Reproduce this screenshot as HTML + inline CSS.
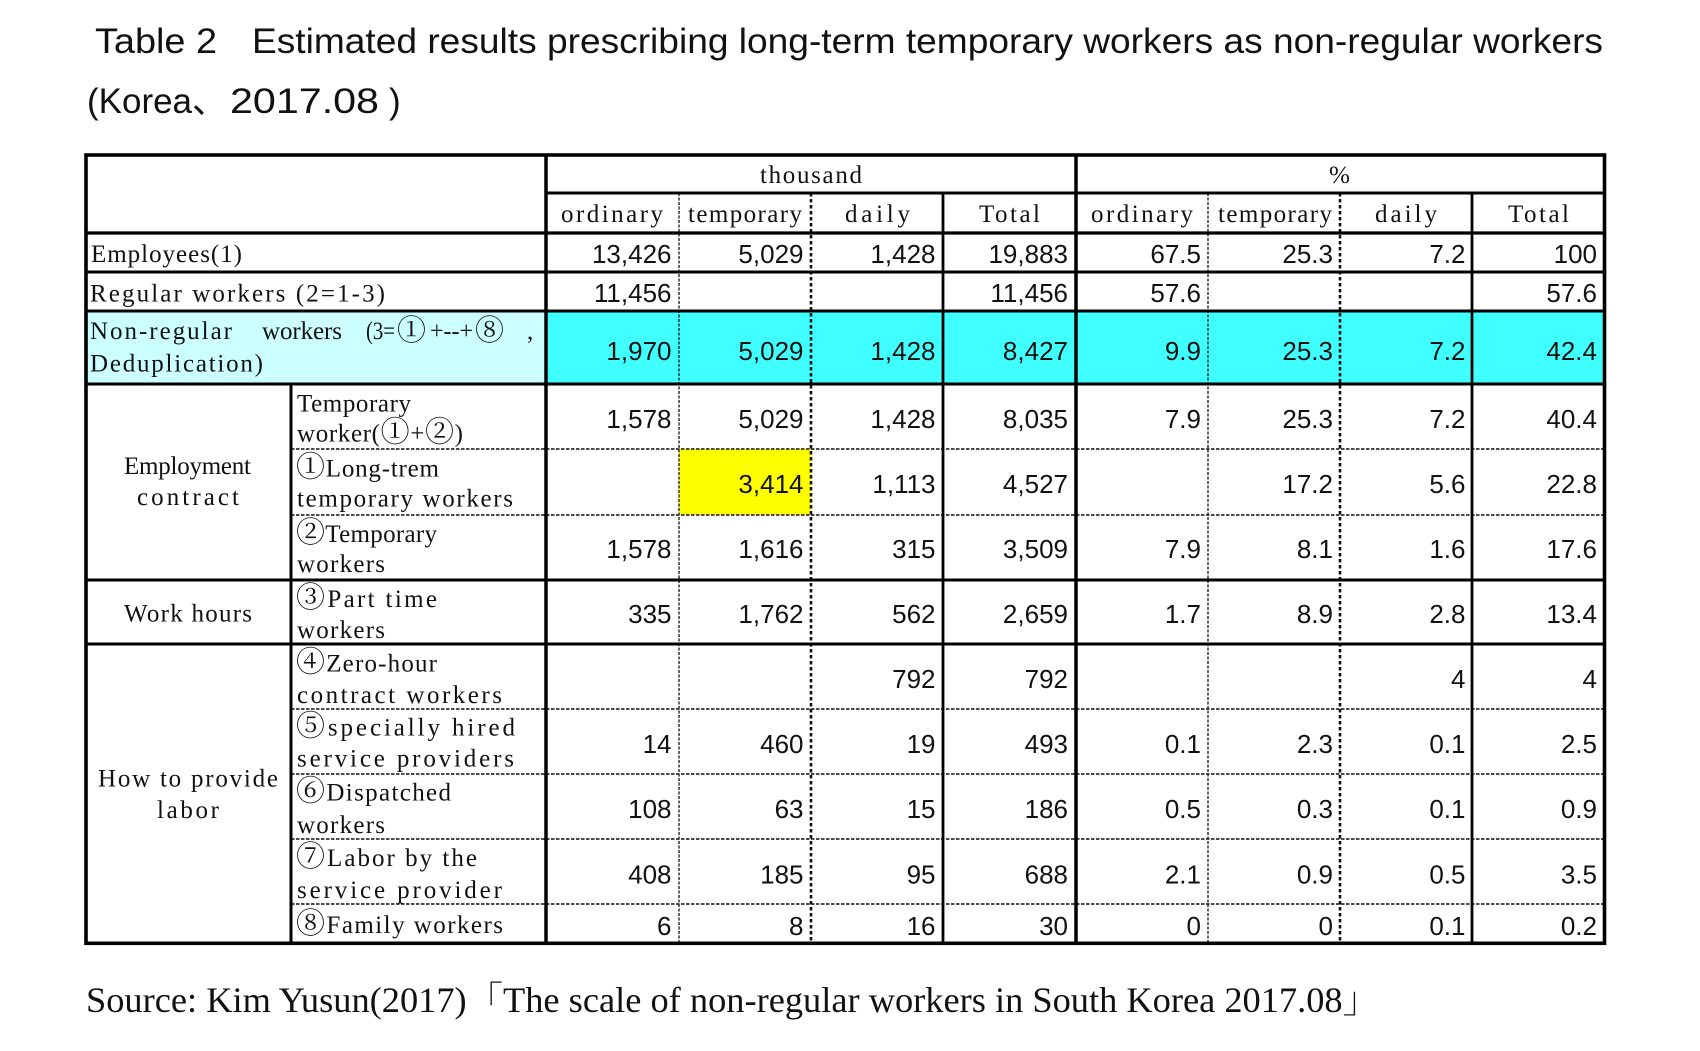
<!DOCTYPE html>
<html><head><meta charset="utf-8">
<style>
html,body{margin:0;padding:0;background:#fff;}
svg{display:block;}
.m{font-family:"Liberation Serif","Noto Serif CJK SC",serif;font-size:25px;fill:#111;}
.c{font-size:29px;}
.n{font-family:"Liberation Sans",sans-serif;font-size:26px;fill:#111;text-anchor:end;}
.t{font-family:"Liberation Sans","Noto Sans CJK JP",sans-serif;font-size:35px;fill:#111;}
.s{font-family:"Liberation Serif","Noto Serif CJK SC",serif;font-size:36px;fill:#111;}
</style></head>
<body>
<svg width="1700" height="1051" viewBox="0 0 1700 1051" xmlns="http://www.w3.org/2000/svg">
<rect x="0" y="0" width="1700" height="1051" fill="#fff"/>

<!-- Title -->
<text class="t" x="95" y="53" textLength="122" lengthAdjust="spacingAndGlyphs">Table 2</text>
<text class="t" x="252" y="53" textLength="1351" lengthAdjust="spacingAndGlyphs">Estimated results prescribing long-term temporary workers as non-regular workers</text>
<text class="t" x="87" y="113" textLength="140" lengthAdjust="spacingAndGlyphs">(Korea、</text>
<text class="t" x="230" y="113" textLength="149" lengthAdjust="spacingAndGlyphs">2017.08</text>
<text class="t" x="389" y="113">)</text>

<!-- Fills -->
<rect x="86" y="311" width="460" height="73" fill="#ccffff"/>
<rect x="546" y="311" width="1058" height="73" fill="#40ffff"/>
<rect x="679" y="449" width="132" height="66" fill="#ffff00"/>

<!-- Dashed horizontal lines -->
<g stroke="#111" stroke-width="1.6" stroke-dasharray="3.5 1.5" fill="none">
<line x1="291" y1="449" x2="1604" y2="449"/>
<line x1="291" y1="515" x2="1604" y2="515"/>
<line x1="291" y1="709" x2="1604" y2="709"/>
<line x1="291" y1="774" x2="1604" y2="774"/>
<line x1="291" y1="839" x2="1604" y2="839"/>
<line x1="291" y1="904" x2="1604" y2="904"/>
</g>

<!-- Thin dashed verticals -->
<g stroke="#111" stroke-width="1.3" stroke-dasharray="3 1.5" fill="none">
<line x1="679" y1="193" x2="679" y2="943"/>
<line x1="1208" y1="193" x2="1208" y2="943"/>
</g>
<!-- Heavy dotted verticals -->
<g stroke="#111" stroke-width="2.6" stroke-dasharray="3.5 2.5" fill="none">
<line x1="811" y1="193" x2="811" y2="943"/>
<line x1="1340" y1="193" x2="1340" y2="943"/>
</g>

<!-- Solid lines -->
<g stroke="#000" fill="none">
<line x1="943" y1="193" x2="943" y2="943" stroke-width="2.8"/>
<line x1="1472" y1="193" x2="1472" y2="943" stroke-width="2.8"/>
<line x1="291" y1="384" x2="291" y2="943" stroke-width="3"/>
<line x1="546" y1="155" x2="546" y2="943" stroke-width="3.5"/>
<line x1="1076" y1="155" x2="1076" y2="943" stroke-width="3.5"/>
<line x1="546" y1="193" x2="1604" y2="193" stroke-width="3"/>
<line x1="86" y1="233" x2="1604" y2="233" stroke-width="3.2"/>
<line x1="86" y1="272" x2="1604" y2="272" stroke-width="3"/>
<line x1="86" y1="311" x2="1604" y2="311" stroke-width="3"/>
<line x1="86" y1="384" x2="1604" y2="384" stroke-width="3"/>
<line x1="86" y1="580" x2="1604" y2="580" stroke-width="3"/>
<line x1="86" y1="644" x2="1604" y2="644" stroke-width="3"/>
<rect x="86" y="155" width="1518.5" height="788.3" stroke-width="3.6"/>
</g>

<!-- Header text -->
<text class="m" x="760" y="183" textLength="102" lengthAdjust="spacing">thousand</text>
<text class="m" x="1329" y="183" textLength="21" lengthAdjust="spacingAndGlyphs">%</text>
<text class="m" x="561" y="222" textLength="102" lengthAdjust="spacing">ordinary</text>
<text class="m" x="688" y="222" textLength="114" lengthAdjust="spacing">temporary</text>
<text class="m" x="845" y="222" textLength="65" lengthAdjust="spacing">daily</text>
<text class="m" x="979" y="222" textLength="61" lengthAdjust="spacing">Total</text>
<text class="m" x="1091" y="222" textLength="102" lengthAdjust="spacing">ordinary</text>
<text class="m" x="1218" y="222" textLength="114" lengthAdjust="spacing">temporary</text>
<text class="m" x="1375" y="222" textLength="62" lengthAdjust="spacing">daily</text>
<text class="m" x="1508" y="222" textLength="61" lengthAdjust="spacing">Total</text>

<!-- Row labels -->
<text class="m" x="91" y="262" textLength="151" lengthAdjust="spacing">Employees(1)</text>
<text class="m" x="90" y="301.5" textLength="295" lengthAdjust="spacing">Regular workers (2=1-3)</text>
<text class="m" x="90" y="339" textLength="142" lengthAdjust="spacing">Non-regular</text>
<text class="m" x="262" y="339" textLength="80" lengthAdjust="spacing">workers</text>
<text class="m" x="366" y="339" textLength="29" lengthAdjust="spacingAndGlyphs">(3=</text>
<text class="m c" x="397" y="340">①</text>
<text class="m" x="430" y="339" textLength="43" lengthAdjust="spacingAndGlyphs">+--+</text>
<text class="m c" x="475" y="340">⑧</text>
<text class="m" x="527" y="339">,</text>
<text class="m" x="90" y="371.5" textLength="173" lengthAdjust="spacing">Deduplication)</text>

<text class="m" x="124" y="474" textLength="127" lengthAdjust="spacing">Employment</text>
<text class="m" x="137" y="505" textLength="102" lengthAdjust="spacing">contract</text>
<text class="m" x="124" y="621.5" textLength="128" lengthAdjust="spacing">Work hours</text>
<text class="m" x="98" y="786.5" textLength="180" lengthAdjust="spacing">How to provide</text>
<text class="m" x="157" y="818" textLength="62" lengthAdjust="spacing">labor</text>

<text class="m" x="297" y="411.5" textLength="114" lengthAdjust="spacing">Temporary</text>
<text class="m" x="297" y="441.5" textLength="166" lengthAdjust="spacing">worker(<tspan class="c">①</tspan>+<tspan class="c">②</tspan>)</text>
<text class="m" x="296" y="476.5" textLength="143" lengthAdjust="spacing"><tspan class="c">①</tspan>Long-trem</text>
<text class="m" x="297" y="506.5" textLength="216" lengthAdjust="spacing">temporary workers</text>
<text class="m" x="296" y="542" textLength="141" lengthAdjust="spacing"><tspan class="c">②</tspan>Temporary</text>
<text class="m" x="297" y="572" textLength="88" lengthAdjust="spacing">workers</text>
<text class="m" x="296" y="607" textLength="141" lengthAdjust="spacing"><tspan class="c">③</tspan>Part time</text>
<text class="m" x="297" y="638" textLength="88" lengthAdjust="spacing">workers</text>
<text class="m" x="296" y="671.5" textLength="141" lengthAdjust="spacing"><tspan class="c">④</tspan>Zero-hour</text>
<text class="m" x="297" y="703" textLength="205" lengthAdjust="spacing">contract workers</text>
<text class="m" x="296" y="735.5" textLength="219" lengthAdjust="spacing"><tspan class="c">⑤</tspan>specially hired</text>
<text class="m" x="297" y="766.5" textLength="217" lengthAdjust="spacing">service providers</text>
<text class="m" x="296" y="800.5" textLength="155" lengthAdjust="spacing"><tspan class="c">⑥</tspan>Dispatched</text>
<text class="m" x="297" y="833" textLength="88" lengthAdjust="spacing">workers</text>
<text class="m" x="296" y="866" textLength="181" lengthAdjust="spacing"><tspan class="c">⑦</tspan>Labor by the</text>
<text class="m" x="297" y="898" textLength="205" lengthAdjust="spacing">service provider</text>
<text class="m" x="296" y="933" textLength="207" lengthAdjust="spacing"><tspan class="c">⑧</tspan>Family workers</text>

<!-- Numbers -->
<g class="n">
<text class="n" x="671.5" y="263">13,426</text><text class="n" x="803.5" y="263">5,029</text><text class="n" x="935.5" y="263">1,428</text><text class="n" x="1068" y="263">19,883</text>
<text class="n" x="1201" y="263">67.5</text><text class="n" x="1333" y="263">25.3</text><text class="n" x="1465.5" y="263">7.2</text><text class="n" x="1597" y="263">100</text>
<text class="n" x="671.5" y="302">11,456</text><text class="n" x="1068" y="302">11,456</text>
<text class="n" x="1201" y="302">57.6</text><text class="n" x="1597" y="302">57.6</text>
<text class="n" x="671.5" y="360">1,970</text><text class="n" x="803.5" y="360">5,029</text><text class="n" x="935.5" y="360">1,428</text><text class="n" x="1068" y="360">8,427</text>
<text class="n" x="1201" y="360">9.9</text><text class="n" x="1333" y="360">25.3</text><text class="n" x="1465.5" y="360">7.2</text><text class="n" x="1597" y="360">42.4</text>
<text class="n" x="671.5" y="428">1,578</text><text class="n" x="803.5" y="428">5,029</text><text class="n" x="935.5" y="428">1,428</text><text class="n" x="1068" y="428">8,035</text>
<text class="n" x="1201" y="428">7.9</text><text class="n" x="1333" y="428">25.3</text><text class="n" x="1465.5" y="428">7.2</text><text class="n" x="1597" y="428">40.4</text>
<text class="n" x="803.5" y="493">3,414</text><text class="n" x="935.5" y="493">1,113</text><text class="n" x="1068" y="493">4,527</text>
<text class="n" x="1333" y="493">17.2</text><text class="n" x="1465.5" y="493">5.6</text><text class="n" x="1597" y="493">22.8</text>
<text class="n" x="671.5" y="558">1,578</text><text class="n" x="803.5" y="558">1,616</text><text class="n" x="935.5" y="558">315</text><text class="n" x="1068" y="558">3,509</text>
<text class="n" x="1201" y="558">7.9</text><text class="n" x="1333" y="558">8.1</text><text class="n" x="1465.5" y="558">1.6</text><text class="n" x="1597" y="558">17.6</text>
<text class="n" x="671.5" y="623">335</text><text class="n" x="803.5" y="623">1,762</text><text class="n" x="935.5" y="623">562</text><text class="n" x="1068" y="623">2,659</text>
<text class="n" x="1201" y="623">1.7</text><text class="n" x="1333" y="623">8.9</text><text class="n" x="1465.5" y="623">2.8</text><text class="n" x="1597" y="623">13.4</text>
<text class="n" x="935.5" y="688">792</text><text class="n" x="1068" y="688">792</text>
<text class="n" x="1465.5" y="688">4</text><text class="n" x="1597" y="688">4</text>
<text class="n" x="671.5" y="753">14</text><text class="n" x="803.5" y="753">460</text><text class="n" x="935.5" y="753">19</text><text class="n" x="1068" y="753">493</text>
<text class="n" x="1201" y="753">0.1</text><text class="n" x="1333" y="753">2.3</text><text class="n" x="1465.5" y="753">0.1</text><text class="n" x="1597" y="753">2.5</text>
<text class="n" x="671.5" y="818">108</text><text class="n" x="803.5" y="818">63</text><text class="n" x="935.5" y="818">15</text><text class="n" x="1068" y="818">186</text>
<text class="n" x="1201" y="818">0.5</text><text class="n" x="1333" y="818">0.3</text><text class="n" x="1465.5" y="818">0.1</text><text class="n" x="1597" y="818">0.9</text>
<text class="n" x="671.5" y="883.5">408</text><text class="n" x="803.5" y="883.5">185</text><text class="n" x="935.5" y="883.5">95</text><text class="n" x="1068" y="883.5">688</text>
<text class="n" x="1201" y="883.5">2.1</text><text class="n" x="1333" y="883.5">0.9</text><text class="n" x="1465.5" y="883.5">0.5</text><text class="n" x="1597" y="883.5">3.5</text>
<text class="n" x="671.5" y="935">6</text><text class="n" x="803.5" y="935">8</text><text class="n" x="935.5" y="935">16</text><text class="n" x="1068" y="935">30</text>
<text class="n" x="1201" y="935">0</text><text class="n" x="1333" y="935">0</text><text class="n" x="1465.5" y="935">0.1</text><text class="n" x="1597" y="935">0.2</text>
</g>

<!-- Source -->
<text class="s" x="86" y="1012" textLength="1293" lengthAdjust="spacingAndGlyphs">Source: Kim Yusun(2017)「The scale of non-regular workers in South Korea 2017.08」</text>
</svg>
</body></html>
